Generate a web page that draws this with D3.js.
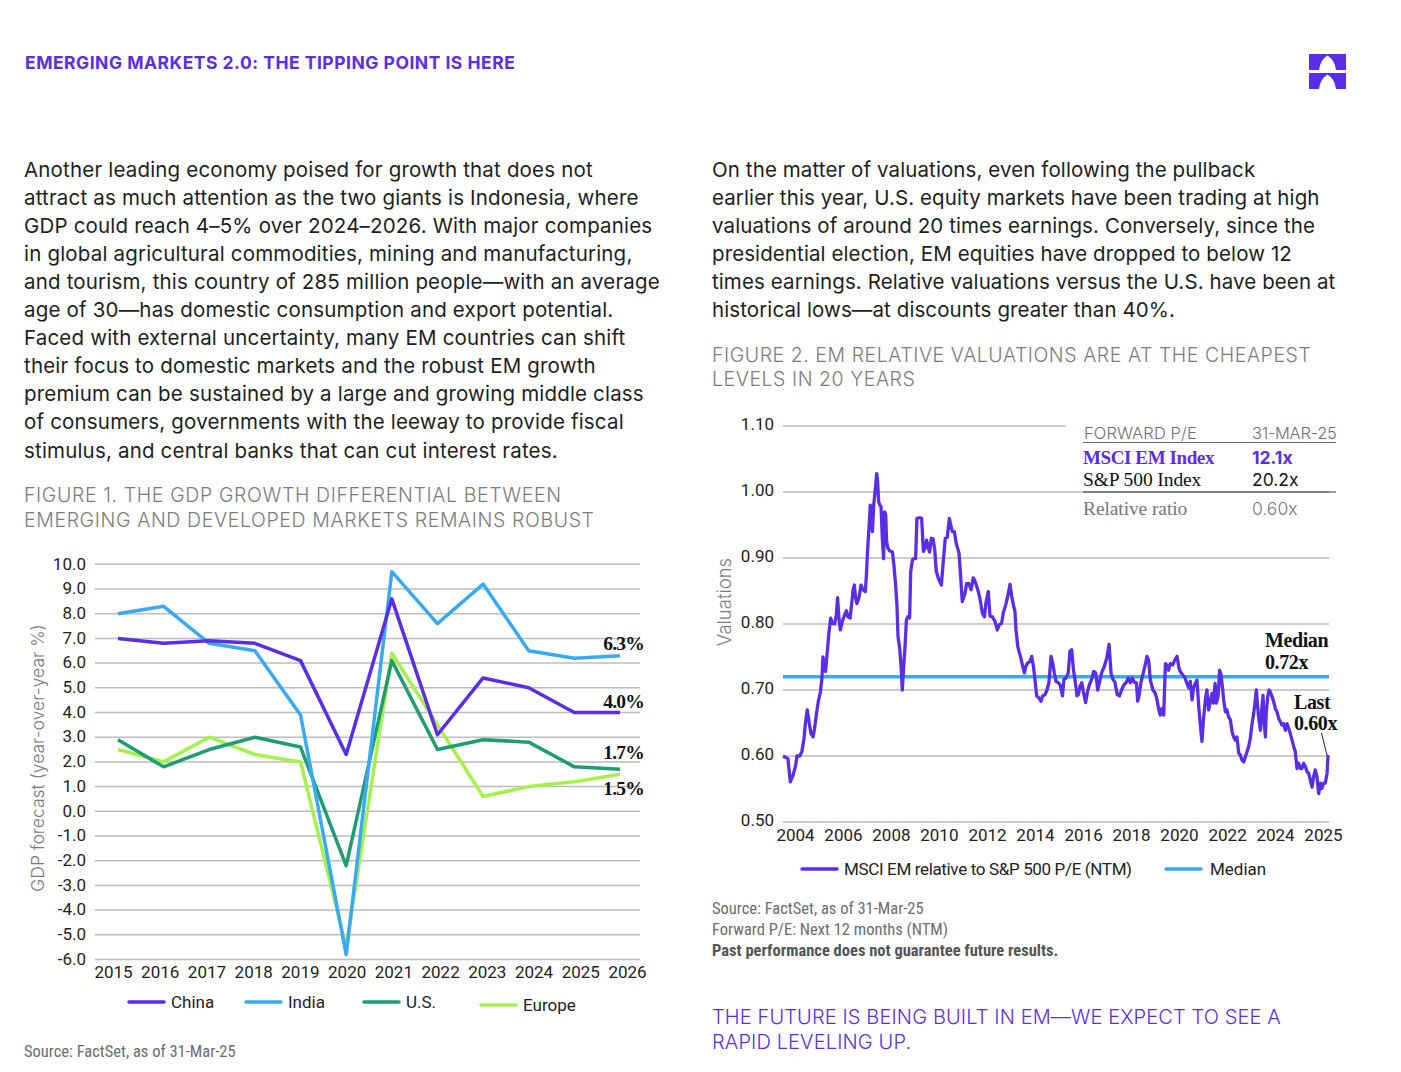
<!DOCTYPE html>
<html><head><meta charset="utf-8">
<script src="https://cdn.jsdelivr.net/npm/d3@7"></script>
<style>body{margin:0;background:#fff} svg{display:block}</style>
</head><body>
<svg id="c" width="1401" height="1072"></svg>
<script>
// ---------- DATA ----------
const headerTitle = "EMERGING MARKETS 2.0: THE TIPPING POINT IS HERE";
const leftParagraph = [
 "Another leading economy poised for growth that does not",
 "attract as much attention as the two giants is Indonesia, where",
 "GDP could reach 4–5% over 2024–2026. With major companies",
 "in global agricultural commodities, mining and manufacturing,",
 "and tourism, this country of 285 million people—with an average",
 "age of 30—has domestic consumption and export potential.",
 "Faced with external uncertainty, many EM countries can shift",
 "their focus to domestic markets and the robust EM growth",
 "premium can be sustained by a large and growing middle class",
 "of consumers, governments with the leeway to provide fiscal",
 "stimulus, and central banks that can cut interest rates."
];
const rightParagraph = [
 "On the matter of valuations, even following the pullback",
 "earlier this year, U.S. equity markets have been trading at high",
 "valuations of around 20 times earnings. Conversely, since the",
 "presidential election, EM equities have dropped to below 12",
 "times earnings. Relative valuations versus the U.S. have been at",
 "historical lows—at discounts greater than 40%."
];
const fig1Title = ["FIGURE 1. THE GDP GROWTH DIFFERENTIAL BETWEEN", "EMERGING AND DEVELOPED MARKETS REMAINS ROBUST"];
const fig2Title = ["FIGURE 2. EM RELATIVE VALUATIONS ARE AT THE CHEAPEST", "LEVELS IN 20 YEARS"];
const closingLine = ["THE FUTURE IS BEING BUILT IN EM—WE EXPECT TO SEE A", "RAPID LEVELING UP."];

// Figure 1: GDP forecasts
const gdpYears = [2015,2016,2017,2018,2019,2020,2021,2022,2023,2024,2025,2026];
const gdpChina  = [7.0,6.8,6.9,6.8,6.1,2.3,8.6,3.1,5.4,5.0,4.0,4.0];
const gdpIndia  = [8.0,8.3,6.8,6.5,3.9,-5.8,9.7,7.6,9.2,6.5,6.2,6.3];
const gdpUS     = [2.9,1.8,2.5,3.0,2.6,-2.2,6.1,2.5,2.9,2.8,1.8,1.7];
const gdpEurope = [2.5,2.0,3.0,2.3,2.0,-5.5,6.4,3.5,0.6,1.0,1.2,1.5];
const gdpTicks = d3.range(-6, 11, 1);
const gdpSeriesNames = ["China","India","U.S.","Europe"];
const gdpEndLabels = ["6.3%","4.0%","1.7%","1.5%"];

// Figure 2: MSCI EM relative to S&P 500 P/E (NTM), [month index from start, ratio]
const emRelPE = [
[0,0.600],[2.3,0.596],[3.4,0.561],[4.7,0.571],[5.9,0.586],[6.5,0.600],[7.8,0.600],[8.8,0.607],[9.8,0.627],[10.5,0.652],
[11.3,0.670],[12.1,0.652],[13.0,0.634],[14.0,0.629],[14.7,0.642],[15.5,0.662],[16.4,0.682],[17.4,0.697],[18.1,0.717],[18.6,0.750],
[19.2,0.735],[19.8,0.728],[20.6,0.758],[21.4,0.788],[22.2,0.809],[22.9,0.801],[24.0,0.800],[24.8,0.814],[25.4,0.840],[26.0,0.809],
[26.7,0.791],[27.6,0.804],[28.7,0.814],[29.5,0.820],[30.2,0.811],[31.2,0.809],[31.9,0.829],[32.6,0.852],[33.2,0.859],[33.8,0.839],
[34.4,0.831],[35.4,0.841],[36.3,0.859],[37.2,0.852],[38.3,0.849],[38.8,0.874],[39.4,0.915],[40.2,0.955],[40.6,0.980],[41.2,0.955],
[41.6,0.940],[42.2,0.980],[42.8,1.000],[43.6,1.028],[44.0,1.016],[44.5,0.985],[45.1,0.980],[45.6,0.978],[46.2,0.930],[46.8,0.899],
[47.3,0.970],[47.8,0.965],[48.2,0.925],[48.8,0.915],[49.6,0.911],[50.9,0.909],[51.6,0.889],[52.4,0.859],[53.0,0.829],[53.5,0.781],
[54.3,0.763],[54.9,0.738],[55.5,0.700],[56.1,0.733],[56.8,0.768],[57.4,0.806],[58.1,0.811],[58.9,0.809],[59.4,0.879],[60.2,0.897],
[60.8,0.899],[61.7,0.899],[62.3,0.960],[63.6,0.961],[64.5,0.960],[65.3,0.910],[66.1,0.915],[66.8,0.927],[67.6,0.915],[68.2,0.909],
[69.0,0.930],[69.8,0.929],[70.6,0.912],[71.3,0.880],[72.3,0.869],[73.7,0.859],[74.4,0.889],[75.5,0.930],[76.4,0.931],[77.4,0.960],
[78.0,0.950],[78.8,0.940],[79.7,0.940],[80.6,0.922],[81.9,0.907],[82.6,0.874],[83.4,0.834],
[84.7,0.847],[85.4,0.861],[86.5,0.861],[87.5,0.852],[88.5,0.870],[89.3,0.865],[90.6,0.852],[91.6,0.839],[92.7,0.817],[93.7,0.811],
[94.4,0.832],[95.5,0.849],[96.3,0.812],[97.4,0.811],[98.6,0.804],[99.7,0.791],[100.6,0.799],[101.7,0.801],[102.5,0.817],[103.6,0.829],
[104.5,0.841],[105.6,0.860],[106.4,0.842],[107.3,0.827],[107.9,0.819],[108.4,0.791],[109.2,0.766],[110.0,0.756],[110.7,0.748],[111.5,0.736],
[112.3,0.726],[113.0,0.736],[113.8,0.741],[114.9,0.743],[115.7,0.751],[116.5,0.736],[117.2,0.716],[118.0,0.691],[119.1,0.688],[120.0,0.683],
[120.8,0.691],[121.9,0.693],[122.8,0.700],[123.7,0.711],[124.7,0.751],[125.4,0.742],[126.2,0.726],[127.0,0.713],[128.1,0.711],[129.0,0.707],
[130.0,0.691],[130.7,0.716],[131.6,0.718],[132.7,0.726],[133.5,0.759],[134.3,0.761],[135.1,0.731],[135.8,0.716],[136.8,0.691],[137.4,0.693],
[138.2,0.706],[139.0,0.711],[139.7,0.698],[140.8,0.681],[141.7,0.698],[142.5,0.708],[143.6,0.716],[144.5,0.728],[145.5,0.726],[146.4,0.700],
[147.2,0.711],[148.2,0.726],[149.5,0.736],[150.6,0.748],[151.7,0.769],[152.6,0.726],[153.5,0.716],[154.4,0.712],[155.5,0.693],[156.5,0.691],
[157.5,0.700],[158.6,0.708],[159.6,0.711],[160.6,0.718],[161.6,0.711],[162.5,0.718],[163.4,0.712],[164.4,0.711],[165.0,0.683],[165.6,0.691],
[166.5,0.711],[167.6,0.726],[168.7,0.741],
[169.3,0.751],[170.1,0.745],[170.9,0.715],[172.1,0.700],[173.2,0.695],[174.0,0.685],[174.8,0.670],[175.5,0.662],[176.3,0.672],[177.1,0.662],
[177.9,0.740],[178.6,0.738],[179.4,0.730],[180.2,0.740],[181.3,0.738],[182.2,0.745],[183.3,0.751],[184.1,0.735],[184.8,0.728],[185.9,0.723],
[186.8,0.720],[187.9,0.710],[188.7,0.703],[189.5,0.713],[190.3,0.685],[191.0,0.703],[191.8,0.710],[192.6,0.715],[193.4,0.675],[194.1,0.649],
[194.9,0.622],[195.7,0.659],[196.5,0.685],[197.2,0.700],[198.0,0.670],[198.8,0.682],[199.6,0.695],[200.3,0.680],[201.0,0.710],[201.6,0.680],
[202.4,0.690],[203.1,0.730],[203.8,0.723],[204.4,0.705],[205.0,0.685],[205.8,0.667],[206.5,0.670],[207.3,0.659],[208.1,0.655],[208.9,0.637],
[209.6,0.629],[210.4,0.624],[211.2,0.629],[212.0,0.604],[212.7,0.602],[213.5,0.594],[214.3,0.591],[215.1,0.599],[215.9,0.607],[216.6,0.614],
[217.4,0.627],[218.2,0.649],[219.0,0.665],[219.7,0.685],[220.2,0.700],[220.8,0.675],[221.4,0.655],[222.1,0.639],[222.7,0.670],[223.3,0.692],
[223.9,0.649],[224.4,0.629],[224.8,0.665],[225.5,0.690],[226.1,0.700],[226.7,0.697],[227.5,0.690],[228.3,0.682],[229.0,0.672],[229.8,0.667],
[230.6,0.657],[231.4,0.652],[232.1,0.647],[232.9,0.649],[233.7,0.639],[234.5,0.649],[235.2,0.642],[236.0,0.634],[236.8,0.624],[237.6,0.614],
[238.3,0.607],[239.1,0.581],[239.9,0.589],[240.7,0.581],[241.4,0.581],[242.2,0.589],[243.0,0.584],[243.8,0.576],[244.5,0.574],[245.3,0.564],
[246.1,0.553],[246.9,0.569],[247.6,0.579],[248.4,0.569],[249.2,0.543],[250.0,0.559],[250.7,0.551],[251.5,0.559],[252.3,0.559],[253.1,0.574],
[253.5,0.599],[254.0,0.601]
];
const emMedian = 0.72;
const valYTicks = [0.50,0.60,0.70,0.80,0.90,1.00,1.10];
const valXTickPos = [5.6,27.9,50.2,72.5,94.9,117.2,139.6,161.9,184.2,206.6,228.9,251.2];
const valXTickLabels = ["2004","2006","2008","2010","2012","2014","2016","2018","2020","2022","2024","2025"];
const tableHeader = ["FORWARD P/E","31-MAR-25"];
const tableRows = [["MSCI EM Index","12.1x"],["S&P 500 Index","20.2x"]];
const tableFooter = ["Relative ratio","0.60x"];
const fig2Notes = ["Source: FactSet, as of 31-Mar-25","Forward P/E: Next 12 months (NTM)","Past performance does not guarantee future results."];
const fig1Source = "Source: FactSet, as of 31-Mar-25";

// ---------- STYLE ----------
const PURPLE = "#5a2de6", BLUE = "#3aa9f5", GREEN = "#1f9d6f", LIME = "#a6f04c";
const GRID = "#bdbdbd";
const SANS = "Inter, 'Noto Sans', sans-serif";
const CHART = "Roboto, 'Liberation Sans', sans-serif";
const NARROW = "'Liberation Sans Narrow', 'Roboto Condensed', 'DejaVu Sans Condensed', sans-serif";
const SERIF = "'Liberation Serif', 'DejaVu Serif', serif";
const hyphenFmt = f => d => f(d).replace("\u2212", "-");

const svg = d3.select("#c");
function txt(x, y, s, o = {}) {
  return svg.append("text").attr("x", x).attr("y", y).text(s)
    .attr("dominant-baseline", "central")
    .attr("font-family", o.f || SANS).attr("font-size", o.s || 19)
    .attr("font-weight", o.w || 400).attr("fill", o.c || "#222")
    .attr("text-anchor", o.a || "start")
    .attr("letter-spacing", o.ls || 0);
}

// Header
txt(25, 62, headerTitle, {s: 17.5, w: 700, c: PURPLE, ls: 0.5});
// Logo
const logo = svg.append("g").attr("fill", PURPLE);
[[54, 70], [73, 89]].forEach(([y0, y1]) => {
  const x0 = 1309, x1 = 1346, cx = (x0 + x1) / 2;
  logo.append("path").attr("d",
    `M${x0},${y0}H${x1}V${y1}H${x1 - 10}Q${x1 - 11},${y0 + 6} ${cx},${y0 + 1.5}Q${x0 + 11},${y0 + 6} ${x0 + 10},${y1}H${x0}Z`);
});

// Paragraphs
leftParagraph.forEach((l, i) => txt(24, 169 + i * 28.1, l, {s: 20.5, c: "#1e1e1e", ls: 0.18}));
rightParagraph.forEach((l, i) => txt(712, 169 + i * 28.1, l, {s: 20.5, c: "#1e1e1e", ls: 0.1}));
fig1Title.forEach((l, i) => txt(24, 495 + i * 25, l, {s: 19.5, w: 300, c: "#7b7b7b", ls: 0.62}));
fig2Title.forEach((l, i) => txt(712, 355 + i * 24, l, {s: 19.5, w: 300, c: "#7b7b7b", ls: 0.55}));
closingLine.forEach((l, i) => txt(712, 1017 + i * 25, l, {s: 20, w: 300, c: PURPLE, ls: 0.12}));

// ---------- FIGURE 1 ----------
const y1 = d3.scaleLinear().domain([-6, 10]).range([959.5, 564.3]);
const x1 = d3.scalePoint().domain(gdpYears).range([118, 620]);
const x1Axis = d3.scalePoint().domain(gdpYears).range([113, 627]);
const f1 = svg.append("g");
f1.append("g").selectAll("line").data(gdpTicks).join("line")
  .attr("x1", 95).attr("x2", 640).attr("y1", d => y1(d)).attr("y2", d => y1(d))
  .attr("stroke", GRID).attr("stroke-width", 1.5);
const yAx1 = f1.append("g").attr("transform", "translate(86,0)")
  .call(d3.axisLeft(y1).tickValues(gdpTicks).tickFormat(hyphenFmt(d3.format(".1f"))).tickSize(0).tickPadding(0));
yAx1.select(".domain").remove();
yAx1.selectAll("text").attr("font-family", CHART).attr("font-size", 17).attr("fill", "#222").attr("dy", "0.28em");
const xAx1 = f1.append("g").attr("transform", "translate(0,966)")
  .call(d3.axisBottom(x1Axis).tickFormat(d3.format("d")).tickSize(0).tickPadding(0));
xAx1.select(".domain").remove();
xAx1.selectAll("text").attr("font-family", CHART).attr("font-size", 17).attr("fill", "#222").attr("dy", "0.71em");

const gdpData = [gdpChina, gdpIndia, gdpUS, gdpEurope];
const gdpColors = [PURPLE, BLUE, GREEN, LIME];
const line1 = d3.line().x((d, i) => x1(gdpYears[i])).y(d => y1(d));
[3, 2, 1, 0].forEach(k => {
  f1.append("path").datum(gdpData[k]).attr("d", line1).attr("fill", "none")
    .attr("stroke", gdpColors[k]).attr("stroke-width", 3.5).attr("stroke-linejoin", "round");
});
// End labels
const endY = [643, 701, 752, 788];
gdpEndLabels.forEach((s, i) => txt(644, endY[i], s, {f: SERIF, s: 19.5, w: 700, c: "#111", a: "end", ls: -0.8}));
// y title
svg.append("text").attr("transform", "translate(37,758) rotate(-90)")
  .attr("text-anchor", "middle").attr("dominant-baseline", "central")
  .attr("font-family", SANS).attr("font-size", 17.5).attr("font-weight", 300).attr("fill", "#7b7b7b")
  .text("GDP forecast (year-over-year %)");
// legend
const leg1X = [129, 246, 364, 481], leg1Y = [1002, 1002, 1002, 1005];
gdpSeriesNames.forEach((n, i) => {
  svg.append("line").attr("x1", leg1X[i]).attr("x2", leg1X[i] + 35).attr("y1", leg1Y[i]).attr("y2", leg1Y[i])
    .attr("stroke", gdpColors[i]).attr("stroke-width", 3.5).attr("stroke-linecap", "round");
  txt(leg1X[i] + 42, leg1Y[i], n, {f: CHART, s: 17});
});
txt(24, 1051, fig1Source, {f: NARROW, s: 16.5, c: "#6d6d6d"});

// ---------- FIGURE 2 ----------
const y2 = d3.scaleLinear().domain([0.5, 1.1]).range([822, 426]);
const x2 = d3.scaleLinear().domain([0, 254]).range([783, 1329]);
const f2 = svg.append("g");
f2.append("g").selectAll("line").data(valYTicks).join("line")
  .attr("x1", 783).attr("x2", d => d > 1.05 ? 1066 : 1329)
  .attr("y1", d => y2(d)).attr("y2", d => y2(d))
  .attr("stroke", GRID).attr("stroke-width", 1.5);
const yAx2 = f2.append("g").attr("transform", "translate(774,0)")
  .call(d3.axisLeft(y2).tickValues(valYTicks).tickFormat(d3.format(".2f")).tickSize(0).tickPadding(0));
yAx2.select(".domain").remove();
yAx2.selectAll("text").attr("font-family", CHART).attr("font-size", 17).attr("fill", "#222").attr("dy", "0.2em");
const xAx2 = f2.append("g").attr("transform", "translate(0,829)")
  .call(d3.axisBottom(x2).tickValues(valXTickPos).tickFormat((d, i) => valXTickLabels[i]).tickSize(0).tickPadding(0));
xAx2.select(".domain").remove();
xAx2.selectAll("text").attr("font-family", CHART).attr("font-size", 17).attr("fill", "#222").attr("dy", "0.71em");

// median
f2.append("line").attr("x1", x2(0)).attr("x2", x2(254)).attr("y1", y2(emMedian)).attr("y2", y2(emMedian))
  .attr("stroke", BLUE).attr("stroke-width", 3.5);
// EM line
f2.append("path").datum(emRelPE).attr("fill", "none").attr("stroke", PURPLE).attr("stroke-width", 3.3)
  .attr("stroke-linejoin", "round")
  .attr("d", d3.line().x(d => x2(d[0])).y(d => y2(d[1])));

// Annotations
const annO = {f: SERIF, s: 20, w: 700, c: "#111", ls: -0.4};
txt(1265, 640, "Median", annO);
txt(1265, 662, "0.72x", annO);
txt(1294, 702, "Last", annO);
txt(1294, 723, "0.60x", annO);
svg.append("line").attr("x1", 1321.5).attr("y1", 733).attr("x2", 1327).attr("y2", y2(emRelPE[emRelPE.length - 1][1]))
  .attr("stroke", "#222").attr("stroke-width", 1);

// Table
txt(1084, 433, tableHeader[0], {s: 16.5, w: 300, c: "#6f6f6f", ls: 0.1});
txt(1252, 433, tableHeader[1], {s: 16.5, w: 300, c: "#6f6f6f", ls: -0.3});
svg.append("line").attr("x1", 1083).attr("x2", 1336).attr("y1", 442.5).attr("y2", 442.5).attr("stroke", "#666").attr("stroke-width", 1.2);
txt(1083, 457, tableRows[0][0], {f: SERIF, s: 19, w: 700, c: PURPLE, ls: -0.4});
txt(1252, 457, tableRows[0][1], {s: 17.5, w: 700, c: PURPLE});
txt(1083, 479, tableRows[1][0], {f: SERIF, s: 19.5, w: 400, c: "#111", ls: -0.1});
txt(1252, 479, tableRows[1][1], {s: 17.5, w: 400, c: "#111"});
svg.append("line").attr("x1", 1083).attr("x2", 1336).attr("y1", 492).attr("y2", 492).attr("stroke", "#333").attr("stroke-width", 1.2);
txt(1083, 508, tableFooter[0], {f: SERIF, s: 19.5, w: 400, c: "#777", ls: -0.1});
txt(1252, 508, tableFooter[1], {s: 17.5, w: 300, c: "#777"});

// y title
svg.append("text").attr("transform", "translate(724,602) rotate(-90)")
  .attr("text-anchor", "middle").attr("dominant-baseline", "central")
  .attr("font-family", SANS).attr("font-size", 18.5).attr("font-weight", 300).attr("fill", "#7b7b7b")
  .text("Valuations");

// legend
svg.append("line").attr("x1", 802).attr("x2", 837).attr("y1", 869).attr("y2", 869)
  .attr("stroke", PURPLE).attr("stroke-width", 3.5).attr("stroke-linecap", "round");
txt(844, 869, "MSCI EM relative to S&P 500 P/E (NTM)", {f: CHART, s: 17, ls: -0.35});
svg.append("line").attr("x1", 1166).attr("x2", 1201).attr("y1", 869).attr("y2", 869)
  .attr("stroke", BLUE).attr("stroke-width", 3.5).attr("stroke-linecap", "round");
txt(1210, 869, "Median", {f: CHART, s: 17});

txt(712, 908, fig2Notes[0], {f: NARROW, s: 16.5, c: "#6d6d6d"});
txt(712, 929, fig2Notes[1], {f: NARROW, s: 16.5, c: "#6d6d6d"});
txt(712, 950, fig2Notes[2], {f: NARROW, s: 16.5, w: 700, c: "#555"});
</script>
</body></html>
